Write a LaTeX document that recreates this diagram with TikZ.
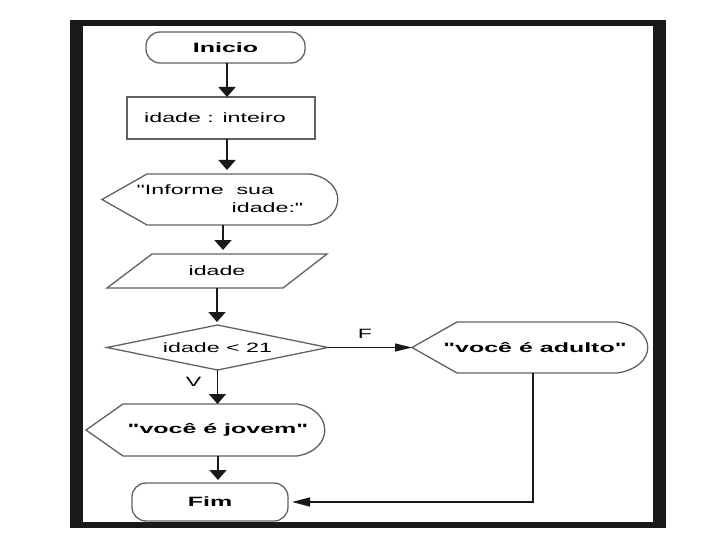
\documentclass[tikz,border=0pt]{standalone}
\usepackage{fontspec}
\setmainfont{Liberation Sans}
\usepackage{graphicx}
\usetikzlibrary{arrows.meta}
\newcommand{\sx}[1]{\scalebox{1.72}[1]{#1}}
\newcommand{\bx}[1]{\scalebox{1.85}[1]{\bfseries #1}}
\newcommand{\qq}{\textquotedbl}
\begin{document}
\begin{tikzpicture}[x=1pt,y=-1pt,
  every node/.style={font=\fontsize{13.5}{18}\selectfont, inner sep=0pt, outer sep=0pt},
  holder/.style={inner sep=0pt, outer sep=0pt},
  outl/.style={draw=black!62, line width=1.3pt},
  vflow/.style={draw=black!90, line width=1.8pt, -{Triangle[width=17pt,length=10pt]}},
  hflow/.style={draw=black!90, line width=1pt, -{Triangle[width=8pt,length=17pt]}},
  rflow/.style={draw=black!90, line width=1.6pt, -{Triangle[width=9pt,length=18pt]}, shorten >=4pt},
  lbl/.style={font=\fontsize{13.5}{18}\selectfont}
]
\useasboundingbox (0,0) rectangle (720,540);
% frame
\fill[black!90] (70,20) rectangle (666,528);
\fill[white] (83,26) rectangle (653,522);

% text holders (named nodes)
\node[holder, minimum width=159pt, minimum height=31pt] (ini) at (225.5,47.5) {\bx{Inicio}};
\node[holder, minimum width=188pt, minimum height=42pt] (box) at (221,118) {\sx{idade : inteiro}\hspace*{12pt}};
\node[holder, minimum width=236pt, minimum height=51pt] (inf) at (220,199.5)
  {\begin{tabular}{@{}l@{}}\sx{\qq Informe\ \ sua}\\\hspace*{95pt}\sx{idade:\qq}\end{tabular}};
\node[holder, minimum width=220pt, minimum height=34pt] (par) at (217,271) {\sx{idade}};
\node[holder, minimum width=221pt, minimum height=45pt] (dec) at (217.5,347.5) {\sx{idade < 21}};
\node[holder, minimum width=239pt, minimum height=52pt] (jov) at (205.5,430) {\hspace*{25pt}\bx{\qq você é jovem\qq}};
\node[holder, minimum width=156pt, minimum height=38pt] (fim) at (210,502) {\bx{Fim}};
\node[holder, minimum width=236pt, minimum height=51pt] (adu) at (530,347.5) {\hspace*{10pt}\bx{\qq você é adulto\qq}};

% outlines
\draw[outl, rounded corners=14pt] (146,32) rectangle (305,63);
\draw[outl] (127,97) rectangle (315,139);
\draw[outl] (102,199.5) -- (147,174) -- (310,174) .. controls (347,180) and (347,219) .. (310,225) -- (147,225) -- cycle;
\draw[outl] (152,254) -- (327,254) -- (283,288) -- (107,288) -- cycle;
\draw[outl] (107,347.5) -- (217.5,325) -- (328,347.5) -- (217.5,370) -- cycle;
\draw[outl] (86,430) -- (123,404) -- (297,404) .. controls (334,410) and (334,450) .. (297,456) -- (123,456) -- cycle;
\draw[outl] (412,347.5) -- (457,322) -- (617,322) .. controls (658,328) and (658,367) .. (617,373) -- (457,373) -- cycle;
\draw[outl, rounded corners=14pt] (132,483) rectangle (288,521);

% connectors
\draw[vflow] ([xshift=1.5pt]ini.south) -- ([xshift=1.5pt]ini.south |- box.north);
\draw[vflow] ([xshift=6pt]box.south) -- ([xshift=6pt,yshift=4pt]box.south |- inf.north);
\draw[vflow] ([xshift=3pt]inf.south) -- ([xshift=3pt,yshift=4pt]inf.south |- par.north);
\draw[vflow] (par.south) -- ([yshift=3pt]par.south |- dec.north);
\draw[vflow] (dec.south) -- node[lbl, pos=0.35, xshift=-24pt]{\sx{V}} (dec.south |- jov.north);
\draw[vflow] ([xshift=12.5pt]jov.south) -- ([xshift=12.5pt,yshift=3pt]jov.south |- fim.north);
\draw[hflow] (dec.east) -- node[lbl, pos=0.44, yshift=14pt]{\sx{F}} (adu.west);
\draw[rflow] ([xshift=3pt]adu.south) |- (fim.east);
\end{tikzpicture}
\end{document}
